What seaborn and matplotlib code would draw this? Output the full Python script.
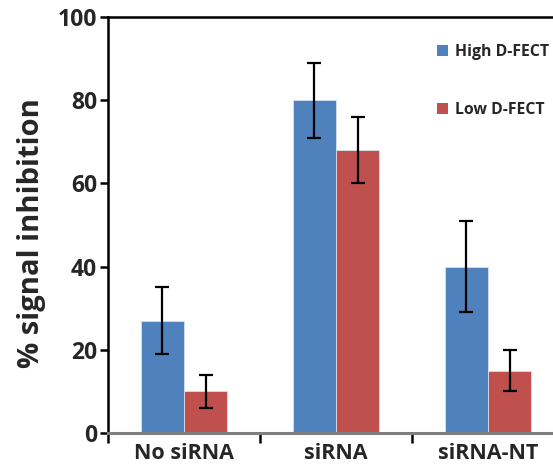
import matplotlib
matplotlib.use("Agg")
import matplotlib.pyplot as plt
import numpy as np
import pandas as pd
import seaborn as sns
from matplotlib.patches import Patch

groups = ["No siRNA", "siRNA", "siRNA-NT"]
series = ["High D-FECT", "Low D-FECT"]
high_vals = [27, 80, 40]
low_vals = [10, 68, 15]
high_err = [8, 9, 11]
low_err = [4, 8, 5]
colors = ["#4F81BD", "#C0504D"]

df = pd.DataFrame({
    "group": groups * 2,
    "series": [series[0]] * 3 + [series[1]] * 3,
    "value": high_vals + low_vals,
    "err": high_err + low_err,
})

sns.set_theme(style="white")
plt.rcParams["font.family"] = ["Open Sans", "DejaVu Sans"]
plt.rcParams["font.weight"] = "bold"
W = "bold"

fig = plt.figure(figsize=(5.53, 4.66), dpi=100)
ax = fig.add_axes([0.1953, 0.0708, 0.8246, 0.8927])

sns.barplot(data=df, x="group", y="value", hue="series", order=groups,
            hue_order=series, palette=colors, width=0.57, errorbar=None,
            saturation=1, edgecolor="#d8e0ee", linewidth=0.6, ax=ax, legend=False)

# error bars centred on each bar
for i, s in enumerate(series):
    cont = ax.containers[i]
    sub = df[df["series"] == s].set_index("group").loc[groups]
    xs = [p.get_x() + p.get_width() / 2 for p in cont.patches]
    ax.errorbar(xs, sub["value"], yerr=sub["err"], fmt="none",
                ecolor="black", elinewidth=1.6, capsize=5, capthick=1.6, zorder=5)

ax.set_ylim(0, 100)
ax.set_xlim(-0.5, 2.5)
ax.set_yticks([0, 20, 40, 60, 80, 100])
ax.set_yticklabels(["0", "20", "40", "60", "80", "100"], fontsize=16.5, fontweight=W)

# group separators as major ticks, labels on minor ticks
ax.set_xticks([-0.5, 0.5, 1.5, 2.5])
ax.set_xticklabels([])
ax.set_xticks([0, 1, 2], minor=True)
ax.set_xticklabels(groups, minor=True, fontsize=15.5, fontweight=W)
ax.tick_params(axis="x", which="major", direction="out", length=7, width=1.8,
               color="black", bottom=True)
ax.tick_params(axis="x", which="minor", length=0, pad=7)
ax.tick_params(axis="y", direction="out", length=6, width=1.8, color="black",
               left=True, pad=2)

ax.set_xlabel("")
ax.set_ylabel("% signal inhibition", fontsize=21, fontweight=W)
ax.yaxis.set_label_coords(-0.135, 0.48)

for side in ["left", "top"]:
    ax.spines[side].set_color("black")
    ax.spines[side].set_linewidth(1.8)
ax.spines["bottom"].set_color("#7f7f7f")
ax.spines["bottom"].set_linewidth(2.2)
ax.spines["right"].set_visible(False)

handles = [Patch(facecolor=c, edgecolor="none") for c in colors]
fig.legend(handles, series, loc="upper left", bbox_to_anchor=(0.779, 0.92),
           frameon=False, prop={"weight": W, "size": 11.4},
           handlelength=0.7, handleheight=0.7, handletextpad=0.45,
           labelspacing=2.7, borderaxespad=0)

fig.savefig("out.png", dpi=100)
